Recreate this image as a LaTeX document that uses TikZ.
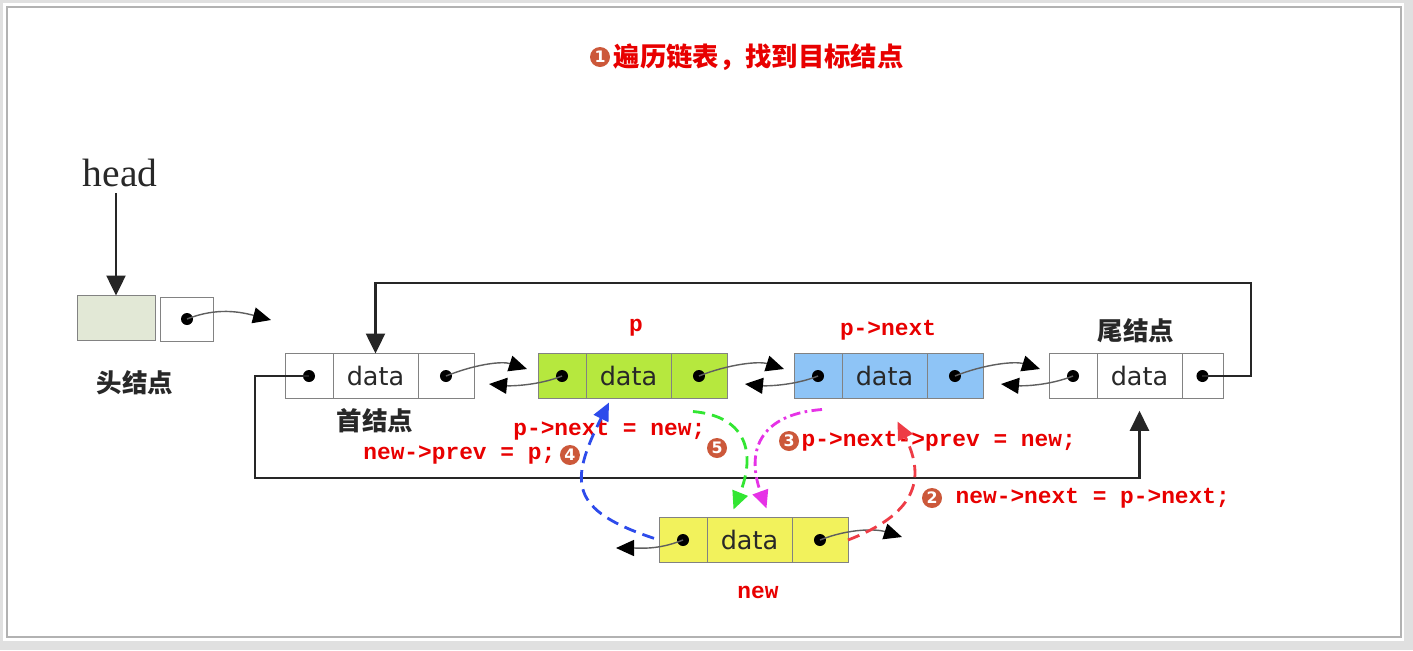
\documentclass[tikz,border=0pt]{standalone}
\usepackage{fontspec}
\setmonofont{Liberation Mono}
\newfontfamily\cjk{Noto Sans CJK SC}
\newfontfamily\datafont{DejaVu Sans}
\newfontfamily\headfont{Liberation Serif}
\usetikzlibrary{arrows.meta, positioning, calc}
\definecolor{cellEdge}{RGB}{130,130,130}
\definecolor{cellP}{RGB}{182,232,62}
\definecolor{cellNext}{RGB}{142,196,246}
\definecolor{cellNew}{RGB}{242,242,92}
\definecolor{cellHead}{RGB}{226,232,214}
\definecolor{codeRed}{RGB}{232,0,0}
\definecolor{stepBall}{RGB}{204,88,58}
\definecolor{ptrGray}{RGB}{95,95,95}
\definecolor{txtDark}{RGB}{40,40,40}
\definecolor{dashBlue}{RGB}{45,75,235}
\definecolor{dashGreen}{RGB}{50,230,50}
\definecolor{dashPink}{RGB}{230,50,230}
\definecolor{dashRed}{RGB}{238,60,70}

\begin{document}
\begin{tikzpicture}[
    x=0.02cm, y=-0.02cm,
    node distance=0pt,
    cell/.style={rectangle, draw=cellEdge, fill=white, minimum height=0.9cm, inner sep=0pt, outer sep=0pt},
    ptrcell/.style={cell, minimum width=0.96cm},
    datacell/.style={cell, minimum width=1.7cm, font=\datafont\fontsize{14.5}{16}\selectfont, text=txtDark},
    nxtcell/.style={cell, minimum width=1.12cm},
    codetxt/.style={font=\ttfamily\bfseries\fontsize{13}{15}\selectfont, text=codeRed, inner sep=0pt},
    cjktxt/.style={font=\cjk\bfseries\fontsize{14.5}{16}\selectfont, text=txtDark, inner sep=0pt},
    ball/.style={circle, fill=stepBall, text=white, font=\datafont\bfseries\fontsize{9}{9}\selectfont, minimum size=0.4cm, inner sep=0pt},
    ptr/.style={draw=ptrGray, line width=0.8pt, -{Triangle[length=3.6mm, width=3.2mm, color=black]}},
    link/.style={draw=black!85, line width=1.4pt, -{Triangle[length=4mm, width=3.8mm]}},
    stp/.style={line width=1.6pt, dash pattern=on 7pt off 4pt, -{Triangle[length=3.6mm, width=3.2mm]}}
]
\useasboundingbox (0,0) rectangle (1413,650);

% Frame
\fill[black!12] (0,0) rectangle (1413,650);
\fill[white] (3,3) rectangle (1404,641);
\draw[black!30, line width=0.8pt] (7,7) rectangle (1401,637);

% Title
\node[ball] (s1) at (600,57) {1};
\node[font=\cjk\bfseries\fontsize{15}{17}\selectfont, text=codeRed, inner sep=0pt, right=0.06cm of s1] (title) {遍历链表，找到目标结点};

% Head node
\node[font=\headfont\fontsize{22.5}{26}\selectfont, text=txtDark] (headtxt) at (120,173) {head};
\node[cell, fill=cellHead, minimum width=1.56cm] (hbox) at (116,318) {};
\node[cell, minimum width=1.06cm, minimum height=0.88cm] (hp) at (187,319) {};
\node[cjktxt] (hlab) at (135,383) {头结点};

% First node
\node[ptrcell] (f1) at (309,376) {};
\node[datacell, right=of f1] (f2) {data};
\node[nxtcell, right=of f2] (f3) {};
\node[cjktxt] (flab) at (375,421) {首结点};

% Node p
\node[ptrcell, fill=cellP] (g1) at (562,376) {};
\node[datacell, fill=cellP, right=of g1] (g2) {data};
\node[nxtcell, fill=cellP, right=of g2] (g3) {};
\node[codetxt] (plab) at (636,328) {p};

% Node p->next
\node[ptrcell, fill=cellNext] (b1) at (818,376) {};
\node[datacell, fill=cellNext, right=of b1] (b2) {data};
\node[nxtcell, fill=cellNext, right=of b2] (b3) {};
\node[codetxt] (qlab) at (888,330) {p->next};

% Tail node
\node[ptrcell] (t1) at (1073,376) {};
\node[datacell, right=of t1] (t2) {data};
\node[nxtcell, minimum width=0.82cm, right=of t2] (t3) {};
\node[cjktxt] (tlab) at (1136,331) {尾结点};

% New node
\node[ptrcell, fill=cellNew] (n1) at (683,540) {};
\node[datacell, fill=cellNew, right=of n1] (n2) {data};
\node[nxtcell, fill=cellNew, right=of n2] (n3) {};
\node[codetxt] (nlab) at (758,592) {new};

% Dots
\foreach \c in {hp,f1,f3,g1,g3,b1,b3,t1,t3,n1,n3}
    \fill (\c) circle[radius=6];

% Pointer tips
\coordinate (hpt) at (271,320);
\coordinate (fw1) at (527,369);
\coordinate (bk1) at (489,384);
\coordinate (fw2) at (784,369);
\coordinate (bk2) at (745,384);
\coordinate (fw3) at (1040,369);
\coordinate (bk3) at (1001,384);
\coordinate (nlt) at (616,548);
\coordinate (nrt) at (902,537);

\draw[ptr] (hp.center) .. controls +(30,-12) and +(-30,-8) .. (hpt);
\draw[ptr] (f3.center) .. controls +(30,-12) and +(-25,-8) .. (fw1);
\draw[ptr] (g1.center) .. controls +(-25,10) and +(20,2) .. (bk1);
\draw[ptr] (g3.center) .. controls +(30,-12) and +(-25,-8) .. (fw2);
\draw[ptr] (b1.center) .. controls +(-25,10) and +(20,2) .. (bk2);
\draw[ptr] (b3.center) .. controls +(30,-12) and +(-25,-8) .. (fw3);
\draw[ptr] (t1.center) .. controls +(-25,10) and +(20,2) .. (bk3);
\draw[ptr] (n1.center) .. controls +(-25,10) and +(25,0) .. (nlt);
\draw[ptr] (n3.center) .. controls +(30,-12) and +(-25,-8) .. (nrt);

% Head arrow and the two loops
\draw[link] (hbox.north |- headtxt.south) -- (hbox.north);
\coordinate (topR) at (1251,283);
\coordinate (botL) at (255,478);
\draw[link] (t3.center) -| (topR) -| (f2.north);
\draw[link, shorten >=7pt] (f1.center) -| (botL) -| (t2.south);

% Code labels
\node[codetxt, anchor=west] (c5) at (513,430) {p->next = new;};
\node[ball] (s5) at (717,448) {5};
\node[codetxt, anchor=west] (c4) at (363,455) {new->prev = p;};
\node[ball, right=0.08cm of c4] (s4) {4};
\node[ball] (s3) at (789,441) {3};
\node[codetxt, right=0.04cm of s3] (c3) {p->next->prev = new;};
\node[ball] (s2) at (932,498) {2};
\node[codetxt, right=0.26cm of s2] (c2) {new->next = p->next;};

% Insertion steps
\coordinate (e4) at ($(g2.south west)+(23,4)$);
\coordinate (b5) at ($(g3.south)+(-6,13)$);
\coordinate (e5) at ($(n2.north)+(-16,-8)$);
\coordinate (b3s) at ($(b1.south)+(4,11)$);
\coordinate (e3) at ($(n2.north)+(17,-9)$);
\coordinate (e2) at ($(b2.south)+(13,23)$);

\draw[stp, dashBlue, shorten <=3pt] (n1.west) .. controls +(-90,-30) and +(-40,80) .. (e4);
\draw[stp, dashGreen] (b5) .. controls +(55,5) and +(22,-55) .. (e5);
\draw[stp, dashPink, dash pattern=on 6pt off 2.5pt on 1.5pt off 2.5pt] (b3s) .. controls +(-65,5) and +(-20,-55) .. (e3);
\draw[stp, dashRed] (n3.east) .. controls +(65,-25) and +(30,60) .. (e2);

\end{tikzpicture}
\end{document}
